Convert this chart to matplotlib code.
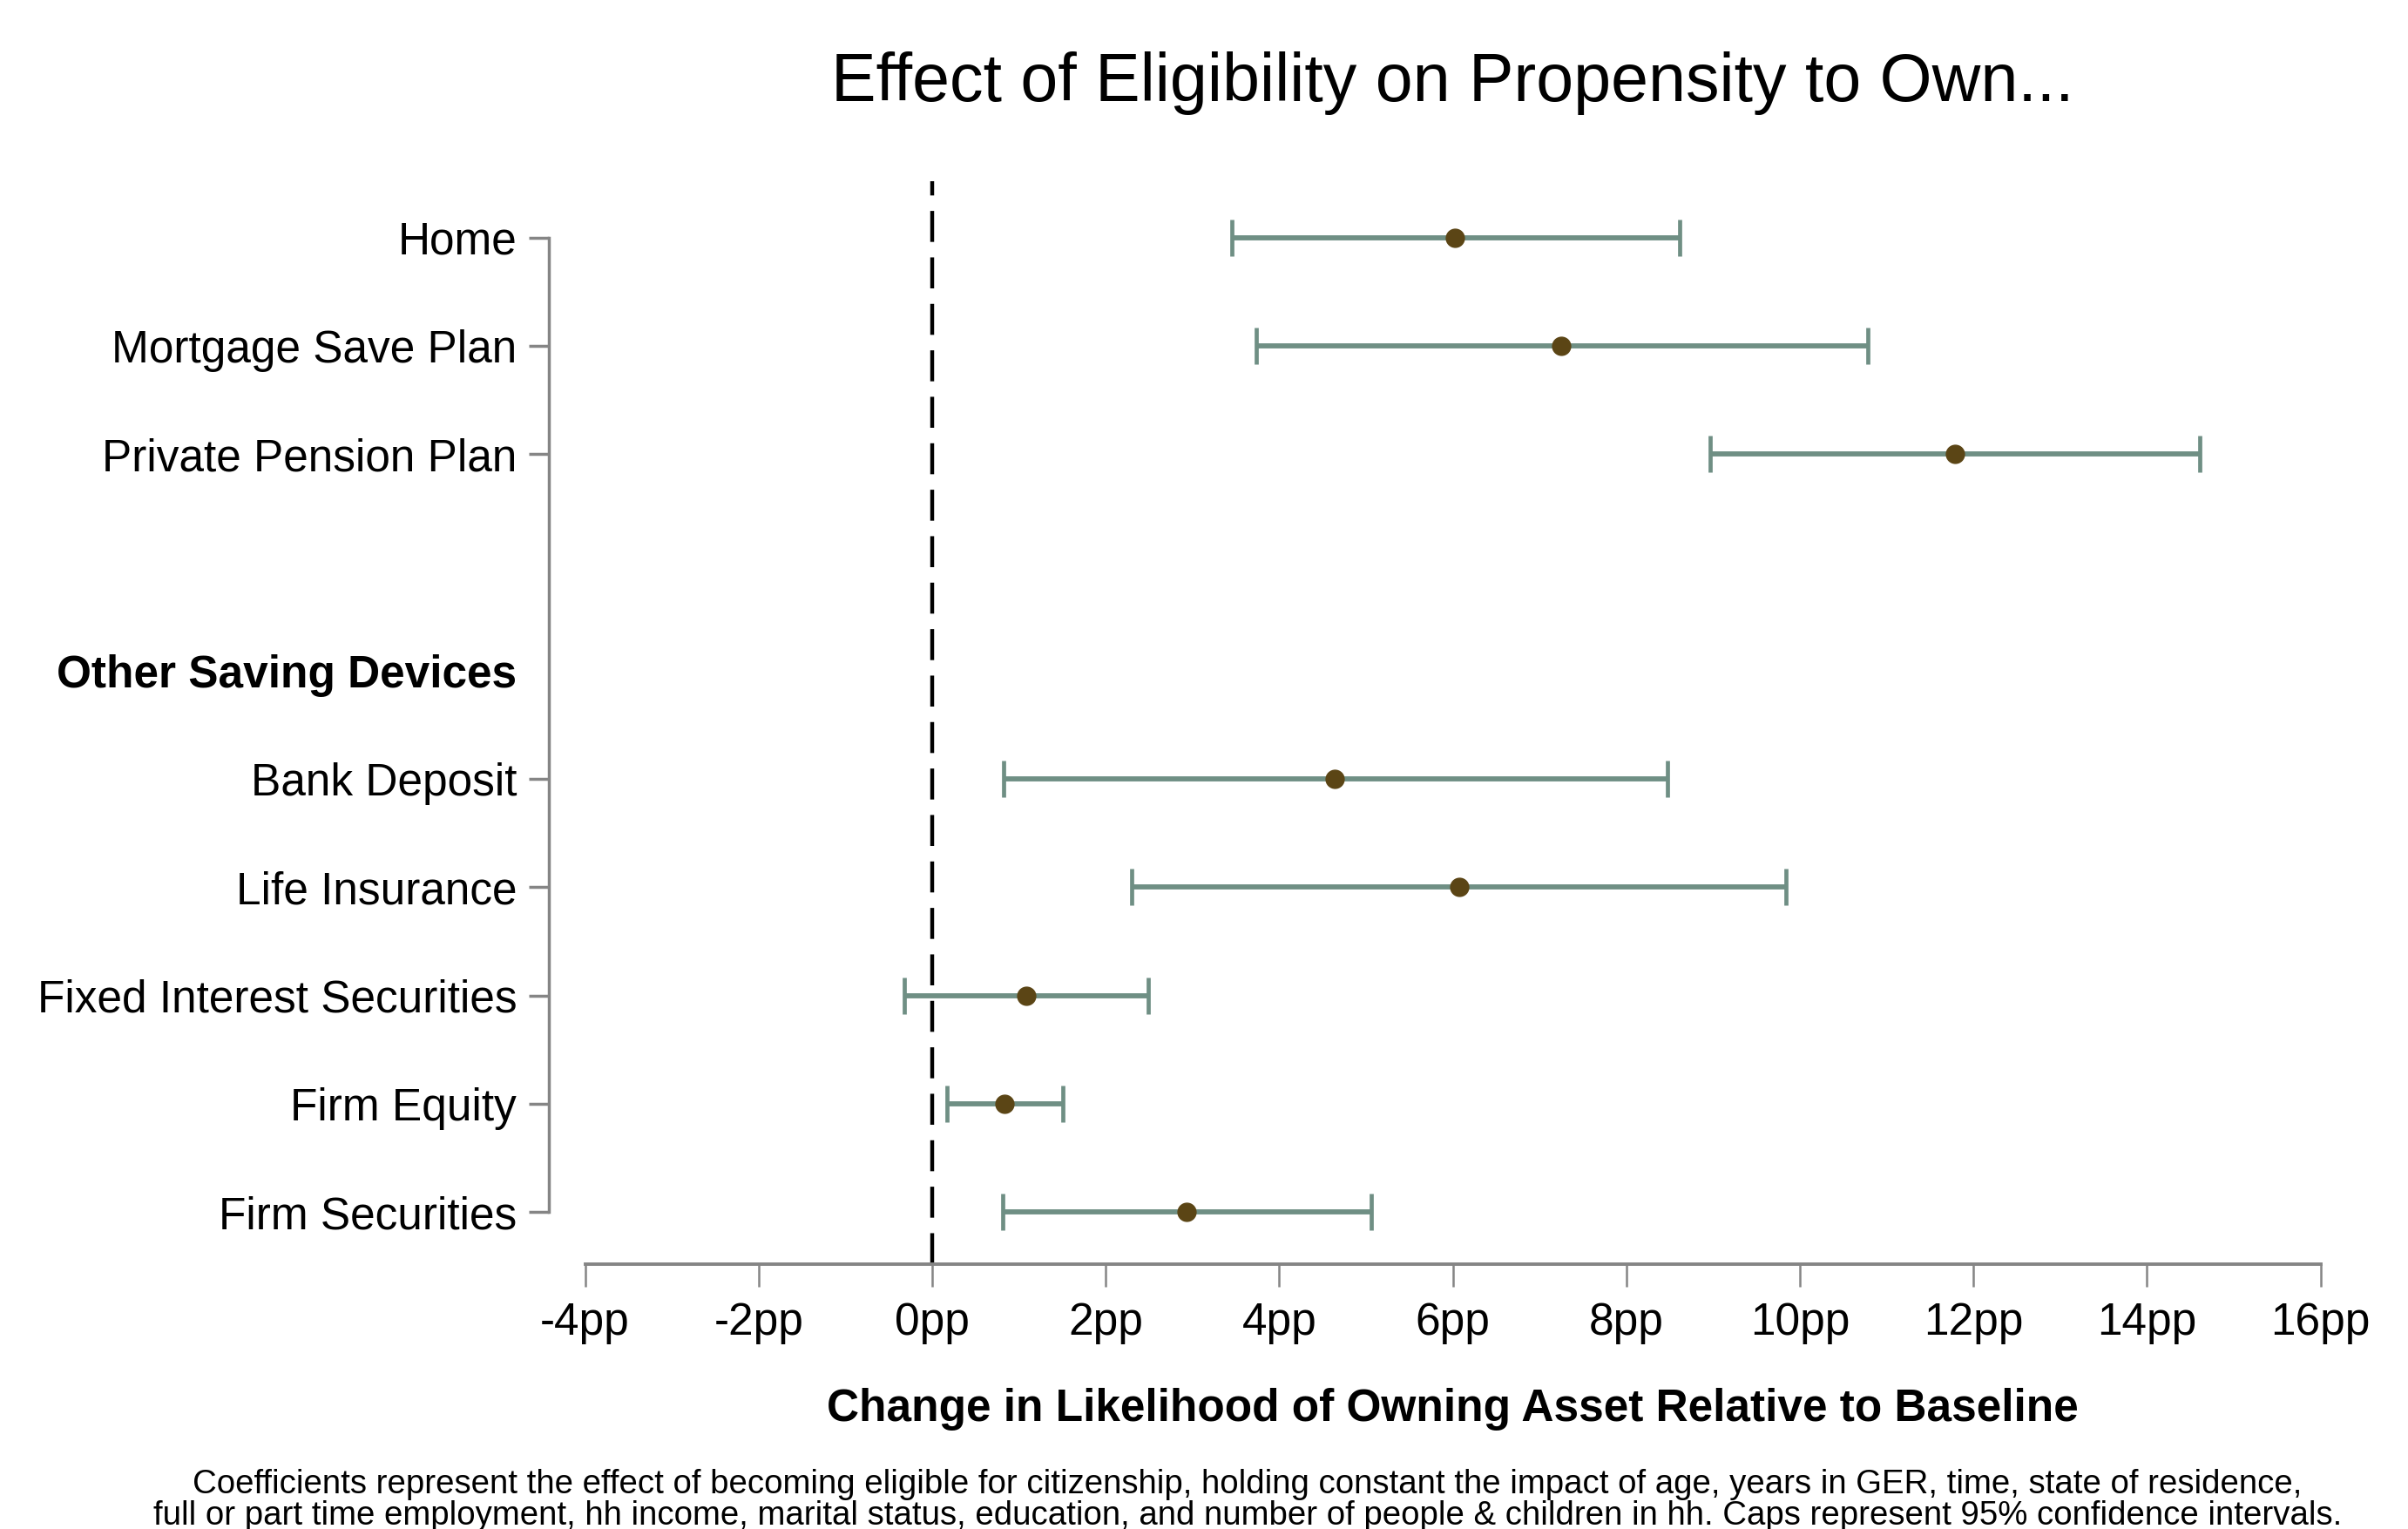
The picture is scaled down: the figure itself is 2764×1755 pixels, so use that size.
import matplotlib
matplotlib.use("Agg")
import matplotlib.pyplot as plt
import numpy as np

plt.rcParams['font.family'] = ['Liberation Sans', 'DejaVu Sans']

# Row labels (top to bottom) and their slot positions; slot 3 is left blank
labels = ["Home", "Mortgage Save Plan", "Private Pension Plan",
          "Other Saving Devices",
          "Bank Deposit", "Life Insurance", "Fixed Interest Securities",
          "Firm Equity", "Firm Securities"]
slots = [0, 1, 2, 4, 5, 6, 7, 8, 9]
header_label = "Other Saving Devices"

# Point estimates and 95% confidence bounds (percentage points)
est_labels = ["Home", "Mortgage Save Plan", "Private Pension Plan",
              "Bank Deposit", "Life Insurance", "Fixed Interest Securities",
              "Firm Equity", "Firm Securities"]
coef = [6.02, 7.25, 11.79, 4.64, 6.07, 1.08, 0.83, 2.93]
ci_low = [3.45, 3.73, 8.97, 0.82, 2.30, -0.32, 0.17, 0.81]
ci_high = [8.61, 10.78, 14.61, 8.47, 9.84, 2.49, 1.51, 5.06]

x_ticks = [-4, -2, 0, 2, 4, 6, 8, 10, 12, 14, 16]
x_ticklabels = [f"{t}pp" for t in x_ticks]

title = "Effect of Eligibility on Propensity to Own..."
xlabel = "Change in Likelihood of Owning Asset Relative to Baseline"
note = ("Coefficients represent the effect of becoming eligible for citizenship, holding constant the impact of age, years in GER, time, state of residence,\n"
        "full or part time employment, hh income, marital status, education, and number of people & children in hh. Caps represent 95% confidence intervals.")

ci_color = "#6f8f84"
pt_color = "#5b4515"
axis_grey = "#858585"

W, H = 2764, 1755
fig = plt.figure(figsize=(W / 100, H / 100), dpi=100)
ax = fig.add_axes([671.6 / W, 1 - 1451 / H, (2663.6 - 671.6) / W, (1451 - 208) / H])

slot_of = dict(zip(labels, slots))
ys = np.array([slot_of[l] for l in est_labels], dtype=float)
coef_a = np.array(coef)
xerr = [coef_a - np.array(ci_low), np.array(ci_high) - coef_a]

ax.axvline(0, color="black", lw=3.2, linestyle=(0, (8, 4)), zorder=1)

ax.errorbar(coef_a, ys, xerr=xerr, fmt="none", ecolor=ci_color,
            elinewidth=4.2, capsize=15, capthick=3.4, zorder=2)
ax.plot(coef_a, ys, "o", color=pt_color, markersize=15, zorder=3)

ax.set_xlim(-4, 16)
ax.set_ylim(9.48, -0.52)

for s in ["top", "right"]:
    ax.spines[s].set_visible(False)
ax.spines["left"].set_position(("outward", 30))
ax.spines["left"].set_bounds(0, 9)
ax.spines["left"].set_color(axis_grey)
ax.spines["left"].set_linewidth(2.5)
ax.spines["bottom"].set_color(axis_grey)
ax.spines["bottom"].set_linewidth(2.8)

ax.set_xticks(x_ticks)
ax.set_xticklabels(x_ticklabels)
ax.set_yticks(slots)
ax.set_yticklabels(labels)
ax.tick_params(axis="x", length=19, width=1.8, color=axis_grey, pad=12,
               labelsize=37, labelcolor="black")
ax.tick_params(axis="y", length=16.5, width=2.5, color=axis_grey, pad=10,
               labelsize=37, labelcolor="black")

hidx = labels.index(header_label)
for i, (tick, lab) in enumerate(zip(ax.yaxis.get_major_ticks(), ax.get_yticklabels())):
    if i == hidx:
        tick.tick1line.set_visible(False)
        lab.set_fontweight("bold")

ax.set_xlabel(xlabel, fontsize=37, fontweight="bold", labelpad=36)
ax.set_title(title, fontsize=55.5, pad=66)

fig.text(1432 / W, 1 - 1722 / H, note, ha="center", va="center",
         fontsize=27.6, linespacing=1.0, multialignment="center")

fig.savefig("out.png", dpi=100)
